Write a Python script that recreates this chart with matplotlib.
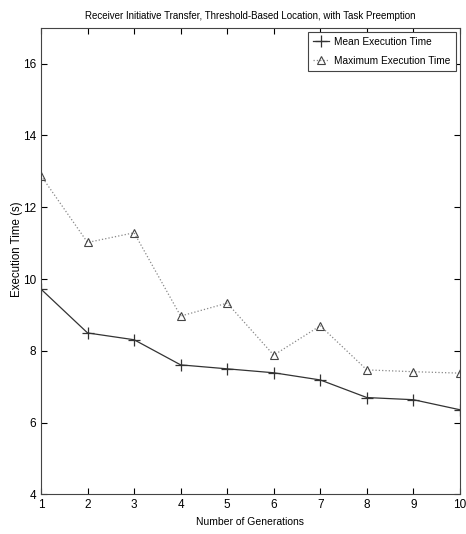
import numpy as np
from matplotlib import pyplot as plt

plt.rcParams['font.family'] = ['Liberation Sans', 'DejaVu Sans']

generations = [1, 2, 3, 4, 5, 6, 7, 8, 9, 10]
mean_time = [9.72, 8.5, 8.31, 7.61, 7.5, 7.39, 7.19, 6.7, 6.64, 6.36]
max_time = [12.88, 11.02, 11.29, 8.97, 9.33, 7.88, 8.7, 7.47, 7.42, 7.38]

fig = plt.figure(figsize=(4.66, 5.34), dpi=100)
ax = fig.add_axes([0.088, 0.074, 0.899, 0.874])

ax.plot(generations, mean_time, color='#333333', lw=0.9, marker='+',
        ms=8, mew=0.9, label='Mean Execution Time')
ax.plot(generations, max_time, color='#888888', lw=0.9, ls=':', marker='^',
        ms=6, mfc='none', mec='#444444', mew=0.8, label='Maximum Execution Time')

ax.set_xlim(1, 10)
ax.set_ylim(4, 17)
ax.set_xticks(generations)
ax.set_yticks([4, 6, 8, 10, 12, 14, 16])
ax.tick_params(direction='in', top=True, right=True, labelsize=8.5, length=4)
for s in ax.spines.values():
    s.set_linewidth(0.8)
    s.set_color('#444444')

ax.set_xlabel('Number of Generations', fontsize=7.5, labelpad=4)
ax.set_ylabel('Execution Time (s)', fontsize=8.3)
ax.yaxis.set_label_coords(-0.043, 0.525)
ax.set_title('Receiver Initiative Transfer, Threshold-Based Location, with Task Preemption',
             fontsize=7, pad=6.5)

leg = ax.legend(loc='upper right', fontsize=7.3, fancybox=False, framealpha=1,
                edgecolor='#444444', borderaxespad=0.4, handlelength=1.6,
                handletextpad=0.5, borderpad=0.5, labelspacing=0.85)
leg.get_frame().set_linewidth(0.8)

fig.savefig('out.png', dpi=100)
